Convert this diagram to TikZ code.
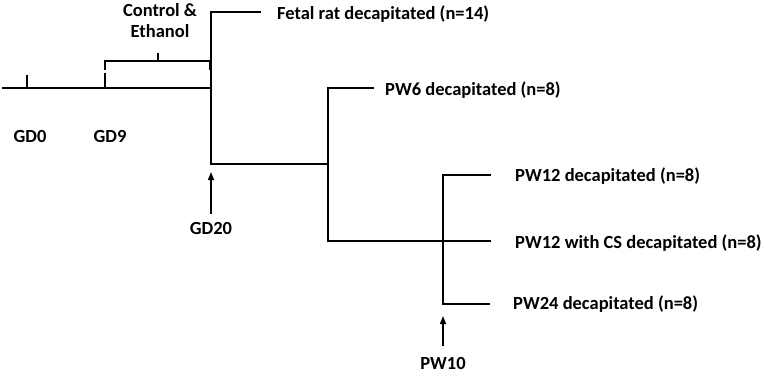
\documentclass[tikz,border=0pt]{standalone}
\usepackage{fontspec}
\setmainfont{Carlito}
\usetikzlibrary{arrows.meta}
\tikzset{
  ln/.style={line width=2.4pt, line cap=butt},
  lbl/.style={font=\bfseries\fontsize{18.5}{21}\selectfont, inner sep=0pt, anchor=west},
  clbl/.style={font=\bfseries\fontsize{18.5}{21}\selectfont, inner sep=0pt, align=center},
  arr/.style={line width=1.6pt, -{Triangle[width=6pt,length=8pt]}}
}
\begin{document}
\begin{tikzpicture}[x=1pt,y=-1pt]
\useasboundingbox (0,0) rectangle (765,378);
% coordinates
\coordinate (start) at (2,88);
\coordinate (j1) at (211,88);
\coordinate (j1t) at (211,12);
\coordinate (j1b) at (211,164);
\coordinate (e1) at (261,12);
\coordinate (j2) at (328,164);
\coordinate (j2t) at (328,88);
\coordinate (j2b) at (328,241);
\coordinate (e2) at (374,88);
\coordinate (e3) at (491,241);
\coordinate (j3) at (443,241);
\coordinate (j3t) at (443,175);
\coordinate (j3b) at (443,304);
\coordinate (e4) at (491,175);
\coordinate (e5) at (490,304);
% ticks
\coordinate (t0a) at (27,75); \coordinate (t0b) at (27,88);
\coordinate (t9a) at (105,73); \coordinate (t9b) at (105,88);
\coordinate (bl) at (105,70); \coordinate (blt) at (105,61);
\coordinate (br) at (210,70); \coordinate (brt) at (210,61);
\coordinate (bm) at (158,61); \coordinate (bmt) at (158,53);
% labels
\node[clbl] (ce) at (160,21) {Control \&\\Ethanol};
\node[lbl] (fetal) at (277,14) {Fetal rat decapitated (n=14)};
\node[lbl] (pw6) at (385,90) {PW6 decapitated (n=8)};
\node[lbl] (pw12) at (515,176) {PW12 decapitated (n=8)};
\node[lbl] (pw12cs) at (515,243) {PW12 with CS decapitated (n=8)};
\node[lbl] (pw24) at (513,304) {PW24 decapitated (n=8)};
\node[clbl] (gd0) at (30,136) {GD0};
\node[clbl] (gd9) at (110,136) {GD9};
\node[clbl] (gd20) at (211,228) {GD20};
\node[clbl] (pw10) at (443,363) {PW10};
% lines
\draw[ln] (start) -- (j1);
\draw[ln] (t0a) -- (t0b);
\draw[ln] (t9a) -- (t9b);
\draw[ln] (bl) -- (blt) -- (brt) -- (br);
\draw[ln] (bm) -- (bmt);
\draw[ln] (e1) -- (j1t) -- (j1b) -- (j2);
\draw[ln] (e2) -- (j2t) -- (j2b) -- (e3);
\draw[ln] (e4) -- (j3t) -- (j3b) -- (e5);
% arrows
\draw[arr] (gd20.north) ++(0,-8) coordinate (a1s) (a1s) -- (211,172);
\draw[arr] (443,346) -- (443,316);
\end{tikzpicture}
\end{document}
